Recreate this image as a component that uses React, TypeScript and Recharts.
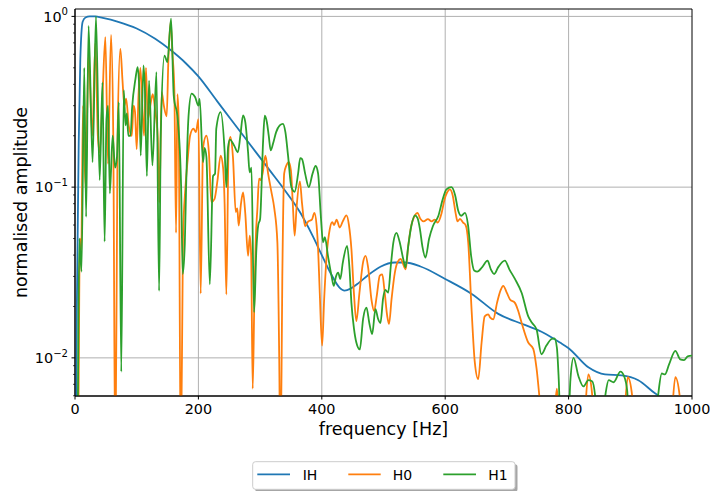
import React from 'react';
import { LineChart, Line, XAxis, YAxis, CartesianGrid, ReferenceArea } from 'recharts';

// [frequency Hz, normalised amplitude]
const IH_POINTS: [number, number][] = [
  [0, 0.0008], [3, 0.02], [6, 0.18], [8.6, 0.56], [12.4, 0.93], [17, 0.985], [24, 1.0], [32, 1.0],
  [45, 0.98], [70, 0.93], [100, 0.85], [130, 0.74], [155, 0.635], [180, 0.53], [200, 0.445],
  [230, 0.32], [255, 0.243], [280, 0.185], [316, 0.125], [340, 0.096], [365, 0.071], [385, 0.052],
  [400, 0.04], [415, 0.031], [428, 0.026], [437, 0.0248], [447, 0.0255], [460, 0.0275], [475, 0.0305],
  [495, 0.0342], [518, 0.0362], [535, 0.0362], [560, 0.0343], [600, 0.029], [643, 0.0237],
  [686, 0.0181], [729, 0.0156], [760, 0.014], [786, 0.0123], [800, 0.0114], [832, 0.0088],
  [859, 0.008], [886, 0.0079], [913, 0.0074], [940, 0.0062], [955, 0.0057], [1000, 0.004],
];

const H0_POINTS: [number, number][] = [
  [0, 0.001], [5, 0.003], [8, 0.05], [10, 0.04], [13, 0.3], [17, 0.1], [22, 0.6], [28, 0.2], [33, 0.7],
  [37, 0.2], [40, 0.16], [44, 0.3], [49.2, 0.757], [53.5, 0.137], [58.4, 0.78], [62, 0.2], [65.4, 0.002],
  [69, 0.2], [73.5, 0.646], [77, 0.42], [80, 0.3], [83, 0.33], [87, 0.23], [92, 0.2], [95, 0.3],
  [97.3, 0.275], [100, 0.167], [103, 0.35], [106, 0.5], [109, 0.3], [112, 0.2], [115, 0.5], [118, 0.25],
  [122, 0.3], [126, 0.35], [130, 0.28], [134, 0.2], [136.7, 0.081], [140.5, 0.36], [144, 0.3],
  [148.6, 0.26], [151.4, 0.565], [155, 0.93], [158, 0.6], [161, 0.375], [163.8, 0.054], [166, 0.35],
  [168, 0.25], [171.5, 0.002], [175, 0.05], [179, 0.1], [182.7, 0.146], [186.5, 0.2], [191.9, 0.22],
  [196, 0.21], [200, 0.25], [203.7, 0.0238], [207.5, 0.17], [212.9, 0.2], [217, 0.16], [221, 0.0816],
  [226, 0.085], [231, 0.11], [236, 0.153], [240, 0.13], [242.5, 0.08], [245.3, 0.0235], [249, 0.17],
  [251.8, 0.197], [256, 0.15], [260.5, 0.0715], [263, 0.075], [265.3, 0.0595], [269, 0.08],
  [272.4, 0.093], [276, 0.07], [280.5, 0.0396], [283.2, 0.052], [285.5, 0.04], [288, 0.0066],
  [290.5, 0.02], [293, 0.05], [295.6, 0.0745], [298.3, 0.112], [301, 0.11], [304, 0.12], [308.6, 0.153],
  [313, 0.12], [318, 0.095], [323, 0.075], [328, 0.0475], [331, 0.01], [333, 0.002], [336, 0.03],
  [339, 0.12], [342.6, 0.134], [346.4, 0.14], [350, 0.125], [353, 0.08], [356, 0.052], [359, 0.075],
  [364.5, 0.108], [368, 0.08], [373, 0.059], [378, 0.063], [384, 0.0645], [388, 0.0706], [391.5, 0.06],
  [394, 0.0435], [396.7, 0.024], [400.5, 0.0118], [403.8, 0.022], [407.5, 0.038], [413, 0.057],
  [417, 0.0624], [420, 0.06], [424, 0.0645], [429, 0.058], [434, 0.063], [440, 0.0684], [444, 0.06],
  [448, 0.0434], [452, 0.0241], [456, 0.0164], [461, 0.024], [467, 0.0365], [471, 0.0396], [475, 0.034],
  [480.5, 0.0219], [484.8, 0.0188], [489, 0.023], [494, 0.0303], [498, 0.0308], [502, 0.024],
  [506, 0.0176], [509, 0.0158], [513, 0.022], [518.4, 0.0316], [523, 0.0365], [528, 0.038], [531, 0.036],
  [536, 0.033], [540, 0.045], [544, 0.057], [551, 0.0684], [555, 0.0706], [560, 0.065], [565, 0.063],
  [572, 0.065], [578, 0.063], [583, 0.0645], [588, 0.062], [594, 0.07], [599, 0.085], [603, 0.093],
  [607.5, 0.097], [612, 0.09], [617, 0.07], [620, 0.063], [624, 0.0652], [629, 0.062], [633, 0.06],
  [637.3, 0.0475], [642.7, 0.0193], [648, 0.0094], [653.5, 0.0075], [659, 0.0123], [664, 0.0175],
  [669.7, 0.018], [673, 0.0172], [677.8, 0.0168], [684, 0.021], [690, 0.025], [694, 0.0264], [700, 0.024],
  [705, 0.022], [713, 0.021], [718, 0.019], [724, 0.016], [734.6, 0.0123], [742.7, 0.0113], [748, 0.0087],
  [753.5, 0.0055], [757, 0.004], [775, 0.004], [781, 0.0066], [786, 0.004], [824, 0.004], [832, 0.008],
  [838, 0.0062], [841, 0.004], [888, 0.004], [896, 0.0077], [903, 0.006], [906, 0.004], [965, 0.004],
  [973, 0.0077], [980, 0.006], [983, 0.004], [1000, 0.004],
];

const H1_POINTS: [number, number][] = [
  [0, 0.001], [4, 0.003], [7, 0.05], [10.5, 0.032], [15, 0.5], [18, 0.067], [22, 0.88], [28.5, 0.14],
  [34, 1.0], [40, 0.11], [44.5, 0.41], [48, 0.048], [51, 0.25], [53.5, 0.3], [56.5, 0.092], [61, 0.2],
  [65, 0.13], [68, 0.15], [71, 0.315], [75, 0.0083], [79, 0.37], [82, 0.23], [84, 0.27], [86.5, 0.2],
  [90, 0.2], [92.5, 0.29], [98, 0.43], [101.5, 0.505], [104, 0.39], [106.5, 0.153], [111, 0.516],
  [113.5, 0.36], [116.5, 0.116], [120, 0.42], [125.5, 0.134], [132, 0.472], [136.3, 0.0247], [139, 0.2],
  [145, 0.59], [149.7, 0.54], [155.7, 0.97], [160, 0.345], [166.5, 0.25], [172, 0.1], [174.6, 0.031],
  [178, 0.047], [180, 0.097], [184, 0.26], [189, 0.353], [194.6, 0.337], [200, 0.3], [202, 0.329],
  [207.5, 0.14], [210, 0.17], [213, 0.15], [218.5, 0.027], [223.7, 0.116], [227, 0.12], [229, 0.22],
  [236, 0.275], [242.6, 0.16], [245.3, 0.1], [248, 0.17], [251, 0.19], [258, 0.175], [264, 0.16],
  [268, 0.2], [272.4, 0.263], [276, 0.24], [280.5, 0.16], [283, 0.122], [286, 0.13], [290.2, 0.0185],
  [294, 0.0434], [297, 0.06], [300, 0.065], [304.8, 0.184], [307.5, 0.262], [311, 0.24], [314, 0.2],
  [317.2, 0.164], [321, 0.18], [326, 0.21], [331.8, 0.23], [337, 0.235], [341, 0.21], [345.3, 0.153],
  [350.7, 0.1], [356, 0.094], [361.6, 0.12], [365, 0.148], [368, 0.146], [373, 0.12], [379, 0.1],
  [385, 0.12], [390, 0.133], [394, 0.12], [398.4, 0.068], [402, 0.0475], [405, 0.051], [410, 0.0396],
  [415.7, 0.0303], [419.4, 0.0264], [423, 0.03], [426.5, 0.0316], [430, 0.029], [434, 0.036],
  [441, 0.0453], [445, 0.033], [448, 0.021], [452, 0.015], [456, 0.0123], [461.6, 0.0112], [467, 0.017],
  [472.4, 0.0197], [477, 0.016], [481.6, 0.0138], [487, 0.0193], [491, 0.017], [495, 0.016],
  [499.4, 0.0224], [503, 0.025], [507.5, 0.0241], [512, 0.035], [516, 0.0475], [521, 0.054], [526, 0.048],
  [532, 0.0379], [535.6, 0.0339], [540, 0.045], [545, 0.059], [551, 0.0684], [555, 0.066], [559, 0.057],
  [563, 0.045], [568, 0.0387], [574, 0.05], [580, 0.059], [589, 0.068], [596, 0.085], [602, 0.097],
  [610, 0.1], [616, 0.09], [621, 0.073], [626, 0.068], [632, 0.0706], [637, 0.06], [642, 0.0396],
  [647, 0.0325], [652, 0.032], [660, 0.034], [668.6, 0.0371], [674, 0.033], [679.4, 0.031], [686, 0.034],
  [696.7, 0.0371], [704, 0.033], [713, 0.029], [724, 0.024], [734.6, 0.0175], [741, 0.016], [748, 0.0147],
  [756, 0.0105], [764, 0.0118], [772.4, 0.0129], [777, 0.013], [781, 0.0115], [784, 0.0075], [787, 0.004],
  [799, 0.004], [803, 0.0075], [808, 0.01], [816, 0.0078], [824, 0.0068], [832, 0.0074], [838, 0.0073],
  [843, 0.006], [846, 0.004], [854, 0.004], [860, 0.0062], [865, 0.0074], [873, 0.0072], [884, 0.0083],
  [890, 0.0078], [895, 0.0064], [898, 0.004], [940, 0.004], [945, 0.006], [951, 0.0081], [956, 0.008],
  [963, 0.0092], [973, 0.011], [981, 0.0098], [987, 0.0097], [993, 0.0102], [1000, 0.0103],
];

const X_TICKS = [0, 200, 400, 600, 800, 1000];
const X_GRID = [200, 400, 600, 800];
const Y_MAJOR = [0.01, 0.1, 1];
const Y_MINOR = [0.006, 0.007, 0.008, 0.009, 0.02, 0.03, 0.04, 0.05, 0.06, 0.07, 0.08, 0.09,
  0.2, 0.3, 0.4, 0.5, 0.6, 0.7, 0.8, 0.9];
const Y_DOMAIN: [number, number] = [0.00598, 1.105];
const X_DOMAIN: [number, number] = [0, 1000];

const SERIES = [
  { name: 'IH', color: '#1f77b4', points: IH_POINTS },
  { name: 'H0', color: '#ff7f0e', points: H0_POINTS },
  { name: 'H1', color: '#2ca02c', points: H1_POINTS },
];

const FONT = '"DejaVu Sans", sans-serif';
const TICK_FS = 14.4;
const LABEL_FS = 17.5;
const TICK_LEN = 3.5;
const TICK_PAD = 3.5;
const LW = 1.8;

const toRows = (pts: [number, number][]) => pts.map(([f, v]) => ({ f, v }));

const XTick = (props: any) => {
  const { x, y, payload } = props;
  return (
    <g>
      <line x1={x} x2={x} y1={y} y2={y + TICK_LEN} stroke="#000" strokeWidth={1} />
      <text x={x} y={y + TICK_LEN + TICK_PAD + 10.6} textAnchor="middle" fontSize={TICK_FS}
        fontFamily={FONT} fill="#000">{payload.value}</text>
    </g>
  );
};

const YTick = (props: any) => {
  const { x, y, payload } = props;
  const v = payload.value as number;
  const lg = Math.log10(v);
  const exp = Math.round(lg);
  const major = Math.abs(lg - exp) < 1e-6;
  return (
    <g>
      <line x1={x} x2={x - (major ? TICK_LEN : 2)} y1={y} y2={y} stroke="#000"
        strokeWidth={major ? 1 : 0.7} />
      {major && (
        <text x={x - TICK_LEN - TICK_PAD} y={y + 5.2} textAnchor="end" fontSize={TICK_FS}
          fontFamily={FONT} fill="#000">
          <tspan>10</tspan>
          <tspan dy={-6.5} fontSize={TICK_FS * 0.7}>{exp === 0 ? '0' : '\u2212' + String(-exp)}</tspan>
        </text>
      )}
    </g>
  );
};

const Legend = () => {
  const bx = 252.7, by = 461.7, bw = 262.3, bh = 27.6;
  const items = [
    { x1: 257.3, x2: 290, tx: 302.7 },
    { x1: 348.3, x2: 380.7, tx: 392.7 },
    { x1: 443.3, x2: 476, tx: 488.3 },
  ];
  const cy = 474.3;
  return (
    <svg width={710} height={491} style={{ position: 'absolute', left: 0, top: 0, pointerEvents: 'none' }}>
      <rect x={bx + 2.5} y={by + 2.5} width={bw} height={bh} rx={2.8} fill="#4d4d4d" opacity={0.5} />
      <rect x={bx} y={by} width={bw} height={bh} rx={2.8} fill="#fff" stroke="#cccccc" strokeWidth={1} />
      {SERIES.map((s, i) => (
        <g key={s.name}>
          <line x1={items[i].x1} x2={items[i].x2} y1={cy} y2={cy} stroke={s.color} strokeWidth={LW} />
          <text x={items[i].tx} y={cy + 5.2} fontSize={14} fontFamily={FONT} fill="#000">{s.name}</text>
        </g>
      ))}
    </svg>
  );
};

export default function App() {
  return (
    <div style={{ position: 'absolute', left: 0, top: 0, width: 710, height: 491, background: '#fff' }}>
      <LineChart width={710} height={491} margin={{ top: 9, right: 18, bottom: 55, left: 0 }}>
        <CartesianGrid stroke="#b0b0b0" strokeWidth={1} horizontalValues={Y_MAJOR}
          verticalValues={X_GRID} />
        <XAxis type="number" dataKey="f" domain={X_DOMAIN} ticks={X_TICKS} interval={0}
          allowDataOverflow height={40} tickSize={0} tickMargin={0} tickLine={false}
          axisLine={{ stroke: '#000', strokeWidth: 1 }} tick={<XTick />}
          label={{
            content: () => (
              <text x={383.5} y={435} textAnchor="middle" fontSize={LABEL_FS} fontFamily={FONT} fill="#000">
                frequency [Hz]
              </text>
            ),
          }} />
        <YAxis type="number" scale="log" domain={Y_DOMAIN} allowDataOverflow
          ticks={[...Y_MINOR, ...Y_MAJOR].sort((a, b) => a - b)} interval={0} width={75}
          tickSize={0} tickMargin={0} tickLine={false}
          axisLine={{ stroke: '#000', strokeWidth: 1 }} tick={<YTick />}
          label={{
            content: () => (
              <text x={0} y={0} transform="translate(26.5,202.5) rotate(-90)" textAnchor="middle"
                fontSize={LABEL_FS} fontFamily={FONT} fill="#000">
                normalised amplitude
              </text>
            ),
          }} />
        <ReferenceArea x1={X_DOMAIN[0]} x2={X_DOMAIN[1]} y1={Y_DOMAIN[0]} y2={Y_DOMAIN[1]}
          fill="none" fillOpacity={0} stroke="#000" strokeWidth={1} ifOverflow="visible" />
        {SERIES.map((s) => (
          <Line key={s.name} data={toRows(s.points)} dataKey="v" name={s.name} type="monotone"
            stroke={s.color} strokeWidth={LW} dot={false} activeDot={false}
            isAnimationActive={false} />
        ))}
      </LineChart>
      <Legend />
    </div>
  );
}
